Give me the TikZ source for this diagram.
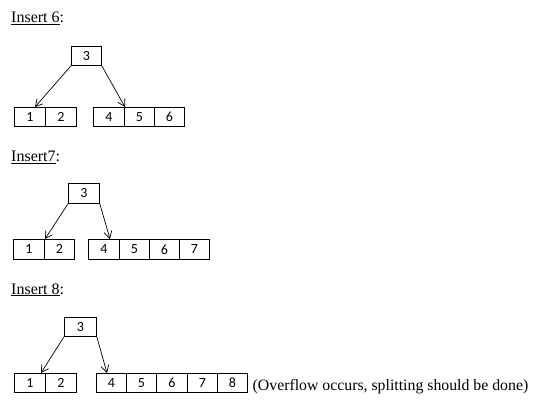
\documentclass[tikz,border=0pt]{standalone}
\usepackage{fontspec}
\setmainfont{Liberation Serif}
\newfontfamily\numfont{Carlito}
\usetikzlibrary{arrows.meta}
\tikzset{
  cell/.style={draw, line width=0.8pt, inner sep=0pt, anchor=north west,
    font=\numfont\fontsize{14}{16}\selectfont},
  head/.style={anchor=base west, inner sep=0pt, font=\fontsize{16}{19}\selectfont},
  arr/.style={line width=0.7pt, -{Straight Barb[length=7pt,width=8pt,line width=0.7pt]}}
}
\begin{document}
\begin{tikzpicture}[x=1pt,y=-1pt]
\useasboundingbox (0,0) rectangle (554,415);
% ---------- Insert 6 ----------
\node[head] (h1) at (11,22.7) {\underline{Insert 6}:};
\node[cell, minimum width=30pt, minimum height=19pt] (r1) at (71,46) {3};
\node[cell, minimum width=31pt, minimum height=19pt] (a11) at (14,107) {1};
\node[cell, minimum width=31pt, minimum height=19pt] (a12) at (45,107) {2};
\node[cell, minimum width=31pt, minimum height=19pt] (b11) at (93,107) {4};
\node[cell, minimum width=30pt, minimum height=19pt] (b12) at (124,107) {5};
\node[cell, minimum width=30pt, minimum height=19pt] (b13) at (154,107) {6};
\coordinate (t11) at (35,107);
\coordinate (t12) at (125,107);
\draw[arr] (r1.south west) -- (t11);
\draw[arr] (r1.south east) -- (t12);
% ---------- Insert7 ----------
\node[head] (h2) at (11,161.7) {\underline{Insert7}:};
\node[cell, minimum width=31pt, minimum height=20pt] (r2) at (68,183) {3};
\node[cell, minimum width=31pt, minimum height=20pt] (a21) at (13,239) {1};
\node[cell, minimum width=30pt, minimum height=20pt] (a22) at (44,239) {2};
\node[cell, minimum width=31pt, minimum height=20pt] (b21) at (88,239) {4};
\node[cell, minimum width=30pt, minimum height=20pt] (b22) at (119,239) {5};
\node[cell, minimum width=30pt, minimum height=20pt] (b23) at (149,239) {6};
\node[cell, minimum width=30pt, minimum height=20pt] (b24) at (179,239) {7};
\coordinate (t21) at (45,239);
\coordinate (t22) at (110,239);
\draw[arr] (r2.south west) -- (t21);
\draw[arr] (r2.south east) -- (t22);
% ---------- Insert 8 ----------
\node[head] (h3) at (11,294) {\underline{Insert 8}:};
\node[cell, minimum width=32pt, minimum height=19pt] (r3) at (64,317) {3};
\node[cell, minimum width=31pt, minimum height=19pt] (a31) at (14,373) {1};
\node[cell, minimum width=31pt, minimum height=19pt] (a32) at (45,373) {2};
\node[cell, minimum width=30pt, minimum height=19pt] (b31) at (96,373) {4};
\node[cell, minimum width=30pt, minimum height=19pt] (b32) at (126,373) {5};
\node[cell, minimum width=31pt, minimum height=19pt] (b33) at (156,373) {6};
\node[cell, minimum width=30pt, minimum height=19pt] (b34) at (187,373) {7};
\node[cell, minimum width=30pt, minimum height=19pt] (b35) at (217,373) {8};
\coordinate (t31) at (41,373);
\coordinate (t32) at (107,373);
\draw[arr] (r3.south west) -- (t31);
\draw[arr] (r3.south east) -- (t32);
\node[head, font=\fontsize{15.8}{19}\selectfont] (note) at (252.5,390) {(Overflow occurs, splitting should be done)};
\end{tikzpicture}
\end{document}
